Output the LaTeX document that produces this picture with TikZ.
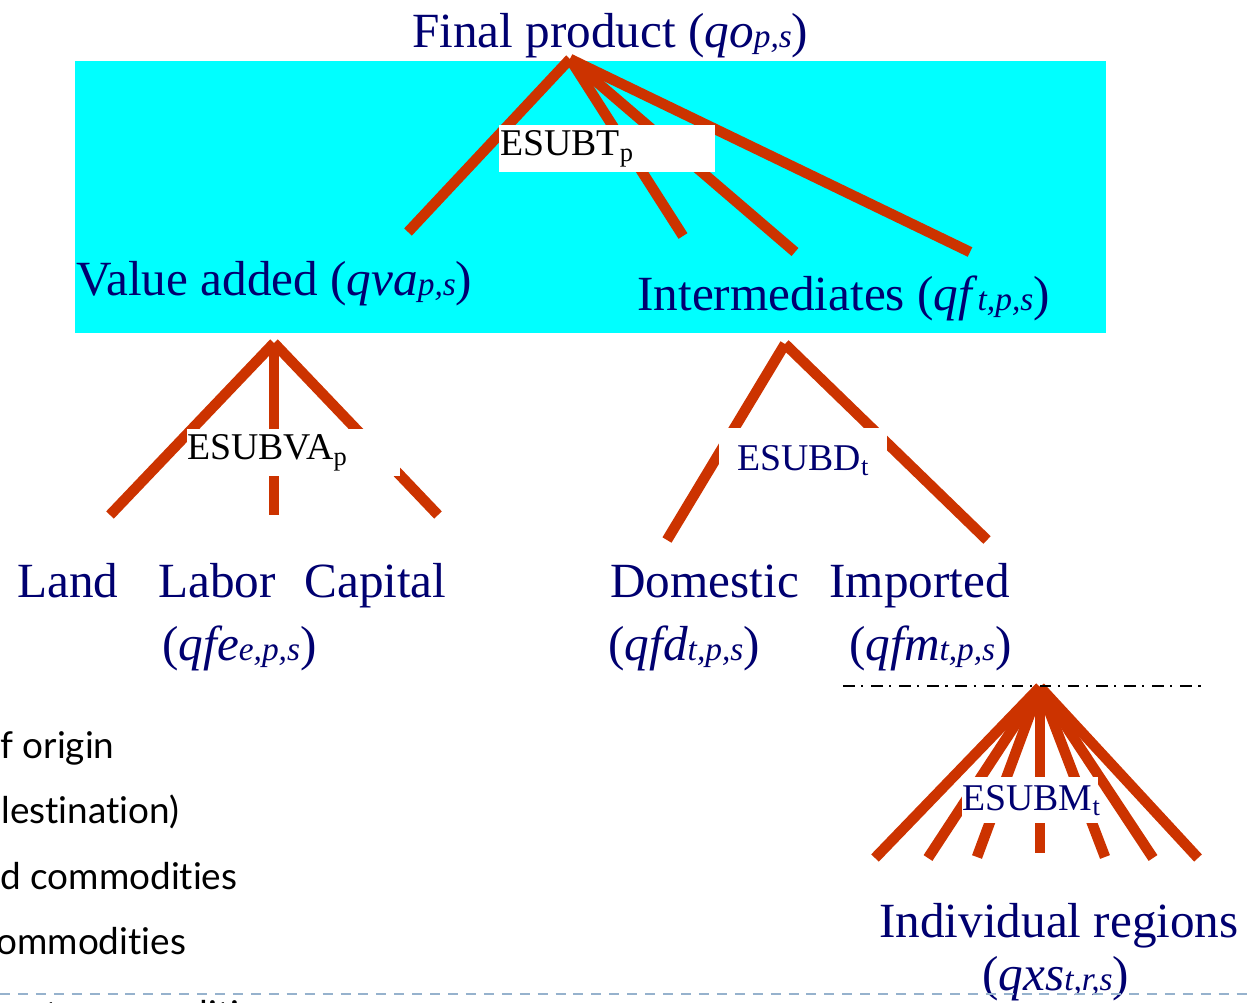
\documentclass[tikz,border=0pt]{standalone}
\usepackage{fontspec}
\setmainfont{Liberation Serif}
\newfontfamily\slidefont[Ligatures={NoCommon,NoRare}]{Lato}
\usepackage{tikz}
\usetikzlibrary{positioning}
\definecolor{NavyText}{RGB}{0,0,112}
\definecolor{Rust}{RGB}{204,51,0}
\definecolor{Aqua}{RGB}{0,255,255}
\definecolor{RuleBlue}{RGB}{150,178,205}
\newcommand{\qsub}[2]{\textit{#1}{\fontsize{19}{20}\selectfont\textit{#2}}}

\begin{document}
\begin{tikzpicture}[x=0.02cm,y=-0.02cm]
    \tikzset{LN/.style={draw=Rust,line width=6pt}}
    \tikzset{TX/.style={text=NavyText,font=\fontsize{28}{30}\selectfont,inner sep=0pt,anchor=base west}}
    \tikzset{EB/.style={fill=white,inner sep=0pt,anchor=north west,font=\fontsize{21.5}{23}\selectfont}}
    \tikzset{BL/.style={inner sep=0pt,anchor=base west,font=\slidefont\fontsize{21}{24}\selectfont}}

    \useasboundingbox (0,0) rectangle (1251,1002);
    \clip (0,0) rectangle (1251,1002);
    \fill[Aqua] (75,61) rectangle (1106,333);

    \node (fp) [TX] at (412,47) {Final product (\qsub{qo}{p,s})};
    	\node (va) [TX] at (76,295) {Value added (\qsub{qva}{p,s})};
    	\node (im) [TX] at (637,310) {Intermediates (\qsub{qf}{t,p,s})};
    		\node (land) [TX] at (17,597) {Land};
    		\node (labor) [TX] at (158,597) {Labor};
    		\node (capital) [TX] at (304,597) {Capital};
    		\node (qfe) [TX] at (162,660) {(\qsub{qfe}{e,p,s})};
    		\node (dom) [TX] at (610,597) {Domestic};
    		\node (imp) [TX] at (829,597) {Imported};
    		\node (qfd) [TX] at (608,660) {(\qsub{qfd}{t,p,s})};
    		\node (qfm) [TX] at (849,660) {(\qsub{qfm}{t,p,s})};
    			\node (reg) [TX] at (879,937) {Individual regions};
    			\node (qxs) [TX] at (982,990) {(\qsub{qxs}{t,r,s})};

    % apexes and free ends of the nests
    \coordinate (fpA) at (570,59);
    \coordinate (fp1) at (408,232);
    \coordinate (fp2) at (683,236);
    \coordinate (fp3) at (795,252);
    \coordinate (fp4) at (970,252);
    \coordinate (vaA) at (274,343);
    \coordinate (va1) at (110,515);
    \coordinate (va2) at (274,515);
    \coordinate (va3) at (438,515);
    \coordinate (imA) at (785,344);
    \coordinate (im1) at (667,540);
    \coordinate (im2) at (987,540);
    \coordinate (rgA) at (1040,687);
    \coordinate (rg1) at (875,858);
    \coordinate (rg2) at (928,858);
    \coordinate (rg3) at (977,857);
    \coordinate (rg4) at (1040,853);
    \coordinate (rg5) at (1105,857);
    \coordinate (rg6) at (1153,858);
    \coordinate (rg7) at (1198,858);

    \path[LN] (fpA) -- (fp1);
    \path[LN] (fpA) -- (fp2);
    \path[LN] (fpA) -- (fp3);
    \path[LN] (fpA) -- (fp4);
    	\path[LN] (vaA) -- (va1);
    	\path[LN] (vaA) -- (va2);
    	\path[LN] (vaA) -- (va3);
    	\path[LN] (imA) -- (im1);
    	\path[LN] (imA) -- (im2);
    		\path[LN] (rgA) -- (rg1);
    		\path[LN] (rgA) -- (rg2);
    		\path[LN] (rgA) -- (rg3);
    		\path[LN] (rgA) -- (rg4);
    		\path[LN] (rgA) -- (rg5);
    		\path[LN] (rgA) -- (rg6);
    		\path[LN] (rgA) -- (rg7);

    \node (esubt) [EB,text width=4.28cm,inner xsep=0.02cm,minimum height=0.94cm,align=left] at (499,125) {ESUBT\textsubscript{p}};
    \node (esubva) [EB,text width=4.26cm,minimum height=0.94cm,align=left] at (187,429) {ESUBVA\textsubscript{p}};
    \node (esubd) [EB,text=NavyText,text width=3.36cm,minimum height=1.3cm,align=center] at (719,428) {ESUBD\textsubscript{t}};
    \node (esubm) [EB,text=NavyText,text width=2.72cm,minimum height=0.92cm,align=center] at (962,777) {ESUBM\textsubscript{t}};

    \coordinate (ddL) at (843,686);
    \coordinate (ddR) at (1205,686);
    \draw[black,line width=1.2pt,dash pattern=on 6.6pt off 3.7pt on 1.2pt off 4.5pt] (ddL) -- (ddR);

    \node (b1) [BL] at (0,758) {f origin};
    \node (b2) [BL] at (1,823) {lestination)};
    \node (b3) [BL] at (0,889) {d commodities};
    \node (b4) [BL] at (-4,954) {ommodities};
    \node (b5) [BL] at (45,1027) {t commodities};

    \coordinate (rlL) at (0,994);
    \coordinate (rlR) at (1251,994);
    \draw[RuleBlue,line width=1.3pt,dash pattern=on 5.7pt off 4.5pt] (rlL) -- (rlR);
\end{tikzpicture}
\end{document}
